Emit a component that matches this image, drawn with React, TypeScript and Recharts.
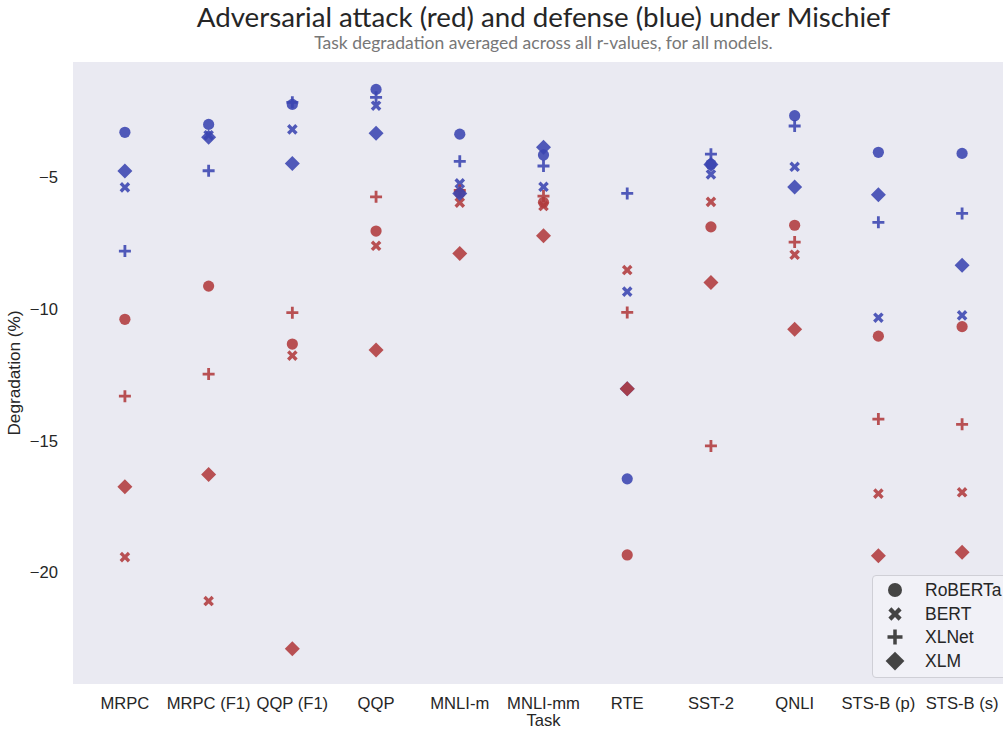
import React from "react";
import { ScatterChart, Scatter, XAxis, YAxis, CartesianGrid, Label } from "recharts";

const tasks = ["MRPC", "MRPC (F1)", "QQP (F1)", "QQP", "MNLI-m", "MNLI-mm", "RTE", "SST-2", "QNLI", "STS-B (p)", "STS-B (s)"];

// defense (blue)
const defRoberta = [-3.29, -2.99, -2.23, -1.66, -3.36, -4.15, -16.45, -4.5, -2.66, -4.05, -4.09];
const defBert = [-5.38, -3.4, -3.18, -2.28, -5.23, -5.36, -9.34, -4.89, -4.6, -10.33, -10.24];
const defXlnet = [-7.8, -4.75, -2.15, -1.96, -4.39, -4.57, -5.61, -4.12, -3.05, -6.71, -6.37];
const defXlm = [-4.76, -3.48, -4.47, -3.33, -5.61, -3.86, -13.03, -4.51, -5.37, -5.66, -8.34];

// attack (red)
const atkRoberta = [-10.39, -9.13, -11.33, -7.04, -5.6, -5.95, -19.34, -6.88, -6.82, -11.03, -10.67];
const atkBert = [-19.42, -21.09, -11.77, -7.6, -5.96, -6.09, -8.52, -5.93, -7.94, -17.01, -16.96];
const atkXlnet = [-13.31, -12.47, -10.14, -5.74, -5.5, -5.71, -10.13, -15.2, -7.46, -14.18, -14.38];
const atkXlm = [-16.75, -16.28, -22.9, -11.56, -7.89, -7.22, -13.03, -8.99, -10.77, -19.37, -19.24];

const yTicks = [-20, -15, -10, -5];
const models = ["RoBERTa", "BERT", "XLNet", "XLM"];

const BLUE = "#3a44b0";
const RED = "#b03a3c";
const ALPHA = 0.88;
const FONT = "Liberation Sans";

const toPoints = (vals: number[]) => vals.map((y, i) => ({ x: i, y }));

function markerPath(kind: string, cx: number, cy: number, k = 1) {
  if (kind === "diamond") {
    const s = 7.5 * k;
    return `M${cx},${cy - s}L${cx + s},${cy}L${cx},${cy + s}L${cx - s},${cy}Z`;
  }
  const s = (kind === "plus" ? 6 : 5.8) * k;
  const t = (kind === "plus" ? 1.4 : 1.7) * k;
  const pts = [
    [-t, -s], [t, -s], [t, -t], [s, -t], [s, t], [t, t],
    [t, s], [-t, s], [-t, t], [-s, t], [-s, -t], [-t, -t],
  ];
  const a = kind === "x" ? Math.PI / 4 : 0;
  const c = Math.cos(a);
  const sn = Math.sin(a);
  return (
    pts
      .map(([px, py], i) => `${i ? "L" : "M"}${cx + px * c - py * sn},${cy + px * sn + py * c}`)
      .join("") + "Z"
  );
}

function Marker({ kind, cx, cy, color, k = 1, opacity = ALPHA }: any) {
  if (cx == null || cy == null) return null;
  if (kind === "circle") return <circle cx={cx} cy={cy} r={5.6 * k} fill={color} fillOpacity={opacity} />;
  return <path d={markerPath(kind, cx, cy, k)} fill={color} fillOpacity={opacity} />;
}

const shapeFor = (kind: string, color: string) => (p: any) => <Marker kind={kind} cx={p.cx} cy={p.cy} color={color} />;

// draw order: defense then attack per model
const series = [
  { name: "def-roberta", vals: defRoberta, kind: "circle", color: BLUE },
  { name: "atk-roberta", vals: atkRoberta, kind: "circle", color: RED },
  { name: "def-bert", vals: defBert, kind: "x", color: BLUE },
  { name: "atk-bert", vals: atkBert, kind: "x", color: RED },
  { name: "def-xlnet", vals: defXlnet, kind: "plus", color: BLUE },
  { name: "atk-xlnet", vals: atkXlnet, kind: "plus", color: RED },
  { name: "def-xlm", vals: defXlm, kind: "diamond", color: BLUE },
  { name: "atk-xlm", vals: atkXlm, kind: "diamond", color: RED },
];

const legendKinds = ["circle", "x", "plus", "diamond"];

export default function App() {
  return (
    <div style={{ position: "absolute", left: 0, top: 0, width: 1003, height: 731, overflow: "hidden", background: "#fff" }}>
      <div style={{ position: "absolute", left: 0, width: 1087, top: -1, textAlign: "center", fontFamily: "Lato", fontSize: 27.7, color: "#262626", lineHeight: "36px" }}>
        Adversarial attack (red) and defense (blue) under Mischief
      </div>
      <div style={{ position: "absolute", left: 0, width: 1087, top: 33, textAlign: "center", fontFamily: "Lato", fontSize: 17.5, color: "#777", lineHeight: "20px" }}>
        Task degradation averaged across all r-values, for all models.
      </div>
      <ScatterChart width={1014} height={731} margin={{ top: 62, right: 0, bottom: 0, left: 0 }}>
        <rect x={73} y={62} width={941} height={622} fill="#eaeaf2" />
        <CartesianGrid stroke="#ffffff" strokeWidth={1.4} />
        <XAxis
          type="number"
          dataKey="x"
          domain={[-0.62, 10.62]}
          ticks={tasks.map((_, i) => i)}
          tickFormatter={(i: number) => tasks[i] ?? ""}
          interval={0}
          allowDataOverflow
          axisLine={false}
          tickLine={false}
          tickMargin={7}
          height={47}
          tick={{ fill: "#262626", fontSize: 16.6, fontFamily: FONT }}
        >
          <Label value="Task" position="insideBottom" offset={5} style={{ fill: "#262626", fontSize: 16.6, fontFamily: FONT }} />
        </XAxis>
        <YAxis
          type="number"
          dataKey="y"
          domain={[-24.24, -0.62]}
          ticks={yTicks}
          allowDataOverflow
          width={73}
          axisLine={false}
          tickLine={false}
          tickMargin={9}
          tickFormatter={(v: number) => String(v).replace("-", "\u2212")}
          tick={{ fill: "#262626", fontSize: 16.6, fontFamily: FONT }}
        >
          <Label value="Degradation (%)" angle={-90} position="insideLeft" offset={14} style={{ textAnchor: "middle", fill: "#262626", fontSize: 17.2, fontFamily: FONT }} />
        </YAxis>
        {series.map((s) => (
          <Scatter key={s.name} name={s.name} data={toPoints(s.vals)} shape={shapeFor(s.kind, s.color)} isAnimationActive={false} />
        ))}
      </ScatterChart>
      <div
        style={{
          position: "absolute",
          left: 872,
          top: 575,
          width: 140,
          height: 103,
          background: "rgba(242,242,247,0.9)",
          border: "1px solid #cfcfd6",
          borderRadius: 4,
          boxSizing: "border-box",
        }}
      >
        {models.map((m, i) => (
          <div key={m} style={{ position: "absolute", left: 0, top: 3 + i * 23.5, height: 23, width: 140, fontFamily: FONT, fontSize: 17.5, color: "#262626" }}>
            <svg width={30} height={23} style={{ position: "absolute", left: 8, top: 0 }}>
              <Marker kind={legendKinds[i]} cx={14} cy={11} color="#3a3a3a" k={1.25} opacity={0.95} />
            </svg>
            <span style={{ position: "absolute", left: 52, top: 1 }}>{m}</span>
          </div>
        ))}
      </div>
    </div>
  );
}
